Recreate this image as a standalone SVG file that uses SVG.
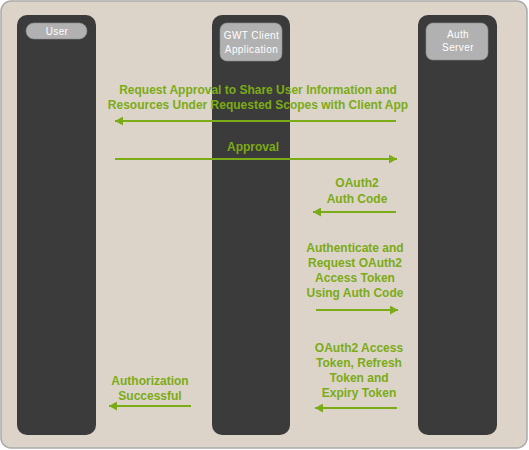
<svg xmlns="http://www.w3.org/2000/svg" width="529" height="450" viewBox="0 0 529 450">
  <defs>
    <style>
      .lane { fill: #3b3b3b; }
      .tag { fill: #b1b1b1; stroke: #8e8e8e; stroke-width: 0.6; }
      .tagtext { font-family: "Liberation Sans", Arial, sans-serif; font-size: 10px; letter-spacing: 0.4px; fill: #ffffff; text-anchor: middle; }
      .msg { font-family: "Liberation Sans", Arial, sans-serif; font-size: 12px; font-weight: bold; fill: #7bab16; text-anchor: middle; }
      .flow { stroke: #7bab16; stroke-width: 2; fill: none; }
    </style>
    <marker id="head" viewBox="0 0 8 9" refX="8" refY="4.5" markerUnits="userSpaceOnUse" markerWidth="8" markerHeight="9" orient="auto-start-reverse">
      <path d="M0,0 L8,4.5 L0,9 z" fill="#7bab16"/>
    </marker>
  </defs>

  <!-- frame -->
  <rect x="1" y="1" width="526" height="447" rx="10" fill="#ddd4c9" stroke="#ababab" stroke-width="1.5"/>

  <!-- lanes -->
  <g id="user">
    <rect class="lane" x="17" y="15" width="79" height="420" rx="10"/>
    <rect class="tag" x="26" y="23" width="61" height="16" rx="8"/>
    <text class="tagtext" x="57" y="35">User</text>
  </g>
  <g id="client">
    <rect class="lane" x="212" y="15" width="78" height="420" rx="10"/>
    <rect class="tag" x="220" y="23" width="62" height="38" rx="7"/>
    <text class="tagtext" x="251.5" y="39">GWT Client</text>
    <text class="tagtext" x="251.5" y="52.5">Application</text>
  </g>
  <g id="auth">
    <rect class="lane" x="418" y="15" width="79" height="420" rx="10"/>
    <rect class="tag" x="426" y="23" width="62" height="37" rx="7"/>
    <text class="tagtext" x="458" y="38">Auth</text>
    <text class="tagtext" x="458" y="51">Server</text>
  </g>

  <!-- messages -->
  <g id="connectors">
    <line class="flow" x1="396" y1="121" x2="115" y2="121" marker-end="url(#head)"/>
    <line class="flow" x1="115" y1="159" x2="397" y2="159" marker-end="url(#head)"/>
    <line class="flow" x1="396" y1="212" x2="313" y2="212" marker-end="url(#head)"/>
    <line class="flow" x1="316" y1="310" x2="398" y2="310" marker-end="url(#head)"/>
    <line class="flow" x1="397" y1="408" x2="315" y2="408" marker-end="url(#head)"/>
    <line class="flow" x1="191" y1="406" x2="109" y2="406" marker-end="url(#head)"/>
  </g>

  <g id="labels">
    <text class="msg" x="258" y="94">Request Approval to Share User Information and</text>
    <text class="msg" x="258" y="109">Resources Under Requested Scopes with Client App</text>
    <text class="msg" x="253" y="151">Approval</text>
    <text class="msg" x="357" y="187">OAuth2</text>
    <text class="msg" x="357" y="203">Auth Code</text>
    <text class="msg" x="355" y="252">Authenticate and</text>
    <text class="msg" x="355" y="267">Request OAuth2</text>
    <text class="msg" x="355" y="282">Access Token</text>
    <text class="msg" x="355" y="297">Using Auth Code</text>
    <text class="msg" x="359" y="352">OAuth2 Access</text>
    <text class="msg" x="359" y="367">Token, Refresh</text>
    <text class="msg" x="359" y="382">Token and</text>
    <text class="msg" x="359" y="397">Expiry Token</text>
    <text class="msg" x="150" y="385">Authorization</text>
    <text class="msg" x="150" y="400">Successful</text>
  </g>
</svg>
